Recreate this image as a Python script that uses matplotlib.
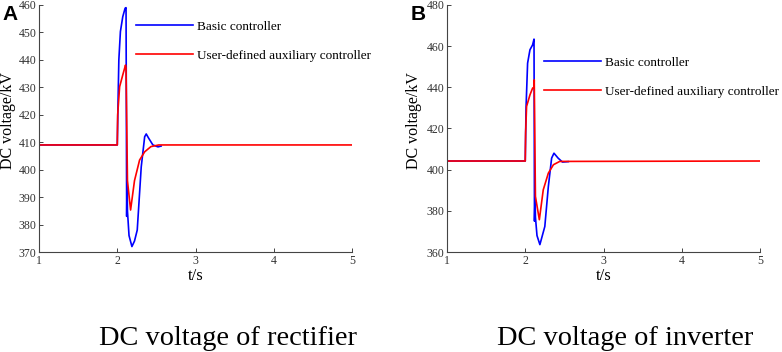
import matplotlib
matplotlib.use("Agg")
import matplotlib.pyplot as plt

plt.rcParams['font.family'] = ['Liberation Serif', 'DejaVu Serif']

# rectifier side (panel A)
rect_basic_t = [1.0, 2.0, 2.01, 2.02, 2.04, 2.07, 2.10, 2.112, 2.12, 2.125, 2.13, 2.15, 2.187,
                2.22, 2.255, 2.306, 2.35, 2.37, 2.40, 2.455, 2.52, 2.56]
rect_basic_v = [409, 409, 425, 440, 450.3, 455.7, 458.8, 459, 383, 396, 385, 376, 372,
                374, 378, 401, 412, 413, 411.5, 409, 408.3, 408.6]
rect_aux_t = [1.0, 2.0, 2.005, 2.03, 2.07, 2.105, 2.112, 2.13, 2.17, 2.22, 2.285, 2.35, 2.43, 2.53, 5.0]
rect_aux_v = [409, 409, 420, 430.2, 434.5, 438.1, 437, 396, 385.3, 396, 403.5, 406.5, 408.4, 409, 409]

# inverter side (panel B)
inv_basic_t = [1.0, 2.0, 2.01, 2.03, 2.06, 2.094, 2.112, 2.118, 2.125, 2.13, 2.15, 2.187,
               2.25, 2.295, 2.337, 2.367, 2.42, 2.475, 2.55]
inv_basic_v = [404.2, 404.2, 430, 451.7, 458.2, 460.6, 463.4, 375, 386, 377, 368, 363.6,
               372.4, 391.8, 405.6, 408, 405.6, 403.7, 403.9]
inv_aux_t = [1.0, 2.0, 2.005, 2.017, 2.06, 2.094, 2.112, 2.115, 2.13, 2.18, 2.23, 2.295, 2.36, 2.44, 5.0]
inv_aux_v = [404.2, 404.2, 418, 430.7, 436.3, 439.6, 440, 443.6, 387, 375.7, 390.2, 398.3, 402.4, 404, 404.2]

xticks = [1, 2, 3, 4, 5]
labels = ['Basic controller', 'User-defined auxiliary controller']

fig = plt.figure(figsize=(7.82, 3.52), dpi=100)
axA = fig.add_axes([0.0499, 0.284, 0.4003, 0.702])
axB = fig.add_axes([0.5716, 0.284, 0.4003, 0.702])

panels = [
    (axA, rect_basic_t, rect_basic_v, rect_aux_t, rect_aux_v, (370, 460), range(370, 461, 10), 0.936, -0.073,
     'A', 'DC voltage of rectifier', 0.292),
    (axB, inv_basic_t, inv_basic_v, inv_aux_t, inv_aux_v, (360, 480), range(360, 481, 20), 0.790, -0.081,
     'B', 'DC voltage of inverter', 0.800),
]

for ax, bt, bv, at, av, ylim, yticks, legy, labx, letter, caption, capx in panels:
    ax.plot(bt, bv, color='#0000ff', lw=1.2, label=labels[0])
    ax.plot(at, av, color='#ff0000', lw=1.2, label=labels[1])
    ax.set_xlim(1, 5)
    ax.set_ylim(*ylim)
    ax.set_xticks(xticks)
    ax.set_yticks(list(yticks))
    for s in ['top', 'right']:
        ax.spines[s].set_visible(False)
    for s in ['left', 'bottom']:
        ax.spines[s].set_color('#444444')
        ax.spines[s].set_linewidth(0.8)
    ax.tick_params(direction='in', length=3, width=0.7, colors='#444444', labelsize=8.5,
                   labelcolor='#333333', pad=2)
    ax.set_xlabel('t/s', fontsize=12, labelpad=1)
    ax.set_ylabel('DC voltage/kV', fontsize=11.5)
    ax.yaxis.set_label_coords(labx, 0.534)
    ax.legend(loc='upper left', bbox_to_anchor=(0.31, legy), frameon=False, fontsize=9.5,
              handlelength=4.3, handletextpad=0.35, labelspacing=1.25, borderpad=0, borderaxespad=0)
    pos = ax.get_position()
    fig.text(pos.x0 - 0.047, 0.985, letter, fontsize=15, fontweight='bold', family='Liberation Sans',
             ha='left', va='top')
    fig.text(capx, 0.020, caption, fontsize=20.4, ha='center', va='baseline')

fig.savefig('out.png', dpi=100)
